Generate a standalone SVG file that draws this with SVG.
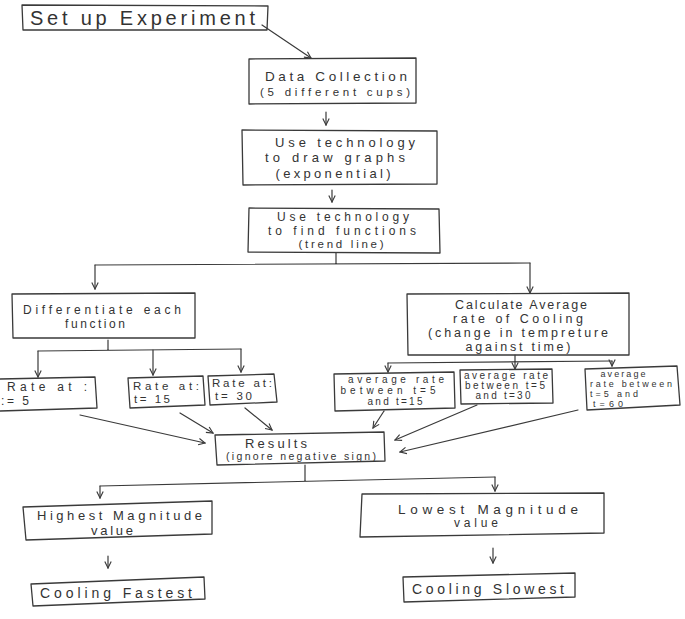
<svg xmlns="http://www.w3.org/2000/svg" width="685" height="619" viewBox="0 0 685 619">
<defs>
<style>
.box{fill:none;stroke:#3a3a3a;stroke-width:1.3;stroke-linejoin:round}
.ln{fill:none;stroke:#3a3a3a;stroke-width:1.2;stroke-linecap:round}
.ar{fill:none;stroke:#3a3a3a;stroke-width:1.2;stroke-linecap:round;marker-end:url(#ah)}
text{font-family:"Liberation Sans",Arial,sans-serif;fill:#333333;font-size:11px}
.c{text-anchor:middle}
</style>
<marker id="ah" viewBox="0 0 10 10" refX="9" refY="5" markerWidth="8" markerHeight="8" orient="auto" markerUnits="userSpaceOnUse">
<path d="M1,1 L9,5 L1,9" fill="none" stroke="#3a3a3a" stroke-width="1.4"/>
</marker>
</defs>
<rect width="685" height="619" fill="#ffffff"/>

<g id="connectors">
<path class="ar" d="M262,25 L311,58"/>
<path class="ar" d="M326,112 L326,125"/>
<path class="ar" d="M332,190 L332,202"/>
<path class="ln" d="M336,253 L336,264 M95,265 L530,263"/>
<path class="ar" d="M95,265 L95,289"/>
<path class="ar" d="M530,263 L530,293"/>
<path class="ln" d="M108,340 L108,350 M38,351 L241,349"/>
<path class="ar" d="M38,351 L38,377"/>
<path class="ar" d="M153,350 L153,375"/>
<path class="ar" d="M241,349 L241,372"/>
<path class="ln" d="M515,355 L515,362 M388,363 L612,361"/>
<path class="ar" d="M388,363 L388,372"/>
<path class="ar" d="M515,362 L515,369"/>
<path class="ar" d="M612,361 L612,366"/>
<path class="ar" d="M80,415 L205,443"/>
<path class="ar" d="M180,413 L213,433"/>
<path class="ar" d="M245,408 L272,430"/>
<path class="ar" d="M384,411 L373,428"/>
<path class="ar" d="M477,405 L395,440"/>
<path class="ar" d="M578,410 L400,452"/>
<path class="ln" d="M305,465 L305,481 M100,486 L495,477"/>
<path class="ar" d="M100,486 L100,498"/>
<path class="ar" d="M495,477 L495,491"/>
<path class="ar" d="M108,556 L108,568"/>
<path class="ar" d="M493,548 L493,563"/>
</g>

<g id="setup">
<path class="box" d="M22,5 L268,6 L267,30 L23,30 Z"/>
<text x="30" y="25" style="font-size:20px" textLength="225" lengthAdjust="spacing">Set up Experiment</text>
</g>

<g id="data-collection">
<path class="box" d="M249,59 L416,58 L416,103 L249,104 Z"/>
<text x="336" y="81" class="c" style="font-size:13.5px" textLength="142" lengthAdjust="spacing">Data Collection</text>
<text x="335" y="96" class="c" style="font-size:11.5px" textLength="150" lengthAdjust="spacing">(5 different cups)</text>
</g>

<g id="draw-graphs">
<path class="box" d="M242,130 L437,131 L437,184 L243,185 Z"/>
<text x="345" y="147" class="c" style="font-size:13px" textLength="140" lengthAdjust="spacing">Use technology</text>
<text x="335" y="162" class="c" style="font-size:13px" textLength="140" lengthAdjust="spacing">to draw graphs</text>
<text x="333" y="178" class="c" style="font-size:13px" textLength="115" lengthAdjust="spacing">(exponential)</text>
</g>

<g id="find-functions">
<path class="box" d="M249,208 L439,209 L440,253 L248,252 Z"/>
<text x="343" y="221" class="c" style="font-size:12px" textLength="132" lengthAdjust="spacing">Use technology</text>
<text x="342" y="235" class="c" style="font-size:12px" textLength="148" lengthAdjust="spacing">to find functions</text>
<text x="341" y="248" class="c" style="font-size:11.5px" textLength="85" lengthAdjust="spacing">(trend line)</text>
</g>

<g id="differentiate">
<path class="box" d="M12,294 L195,293 L195,338 L13,338 Z"/>
<text x="23" y="314" style="font-size:12px" textLength="158" lengthAdjust="spacing">Differentiate each</text>
<text x="95" y="328" class="c" style="font-size:12px" textLength="60" lengthAdjust="spacing">function</text>
</g>

<g id="calculate-average">
<path class="box" d="M407,294 L629,293 L629,355 L408,355 Z"/>
<text x="521" y="309" class="c" style="font-size:12.5px" textLength="132" lengthAdjust="spacing">Calculate Average</text>
<text x="518" y="323" class="c" style="font-size:12.5px" textLength="130" lengthAdjust="spacing">rate of Cooling</text>
<text x="518" y="337" class="c" style="font-size:12.5px" textLength="180" lengthAdjust="spacing">(change in tempreture</text>
<text x="518" y="351" class="c" style="font-size:12.5px" textLength="105" lengthAdjust="spacing">against time)</text>
</g>

<g id="rate-t5">
<path class="box" d="M0,379 L95,377 L97,408 L0,411"/>
<text x="7" y="391" style="font-size:12px" textLength="80" lengthAdjust="spacing">Rate at :</text>
<text x="1" y="405" style="font-size:12px" textLength="28" lengthAdjust="spacing">:= 5</text>
</g>

<g id="rate-t15">
<path class="box" d="M128,378 L203,376 L205,405 L130,408 Z"/>
<text x="133" y="390" style="font-size:11.5px" textLength="66" lengthAdjust="spacing">Rate at:</text>
<text x="134" y="403" style="font-size:11.5px" textLength="36" lengthAdjust="spacing">t= 15</text>
</g>

<g id="rate-t30">
<path class="box" d="M208,376 L274,374 L277,402 L210,405 Z"/>
<text x="212" y="387" style="font-size:11.5px" textLength="60" lengthAdjust="spacing">Rate at:</text>
<text x="215" y="400" style="font-size:11.5px" textLength="37" lengthAdjust="spacing">t= 30</text>
</g>

<g id="avg-5-15">
<path class="box" d="M334,374 L454,372 L455,408 L335,411 Z"/>
<text x="396" y="383" class="c" style="font-size:10px" textLength="96" lengthAdjust="spacing">average rate</text>
<text x="388" y="394" class="c" style="font-size:10px" textLength="95" lengthAdjust="spacing">between t=5</text>
<text x="395" y="405" class="c" style="font-size:10px" textLength="55" lengthAdjust="spacing">and t=15</text>
</g>

<g id="avg-5-30">
<path class="box" d="M460,370 L552,369 L553,403 L461,404 Z"/>
<text x="506" y="379" class="c" style="font-size:10px" textLength="84" lengthAdjust="spacing">average rate</text>
<text x="505" y="389" class="c" style="font-size:10px" textLength="80" lengthAdjust="spacing">between t=5</text>
<text x="503" y="399" class="c" style="font-size:10px" textLength="55" lengthAdjust="spacing">and t=30</text>
</g>

<g id="avg-5-60">
<path class="box" d="M585,369 L677,366 L680,405 L587,410 Z"/>
<text x="623" y="377" class="c" style="font-size:9px" textLength="45" lengthAdjust="spacing">average</text>
<text x="590" y="387" style="font-size:9px" textLength="82" lengthAdjust="spacing">rate between</text>
<text x="590" y="397" style="font-size:9px" textLength="48" lengthAdjust="spacing">t=5 and</text>
<text x="593" y="407" style="font-size:9px" textLength="30" lengthAdjust="spacing">t=60</text>
</g>

<g id="results">
<path class="box" d="M215,435 L384,432 L385,461 L217,465 Z"/>
<text x="245" y="448" style="font-size:13px" textLength="62" lengthAdjust="spacing">Results</text>
<text x="226" y="460" style="font-size:10.5px" textLength="150" lengthAdjust="spacing">(ignore negative sign)</text>
</g>

<g id="highest">
<path class="box" d="M23,507 L212,501 L212,534 L26,540 Z"/>
<text x="37" y="520" style="font-size:13px" textLength="165" lengthAdjust="spacing">Highest Magnitude</text>
<text x="112" y="535" class="c" style="font-size:13px" textLength="42" lengthAdjust="spacing">value</text>
</g>

<g id="lowest">
<path class="box" d="M362,494 L604,493 L604,533 L360,537 Z"/>
<text x="398" y="514" style="font-size:13.5px" textLength="180" lengthAdjust="spacing">Lowest Magnitude</text>
<text x="476" y="527" class="c" style="font-size:12px" textLength="44" lengthAdjust="spacing">value</text>
</g>

<g id="cooling-fastest">
<path class="box" d="M31,584 L204,577 L205,599 L33,606 Z"/>
<text x="40" y="598" style="font-size:14px" textLength="152" lengthAdjust="spacing">Cooling Fastest</text>
</g>

<g id="cooling-slowest">
<path class="box" d="M403,577 L575,573 L575,597 L404,602 Z"/>
<text x="412" y="594" style="font-size:14px" textLength="152" lengthAdjust="spacing">Cooling Slowest</text>
</g>
</svg>
